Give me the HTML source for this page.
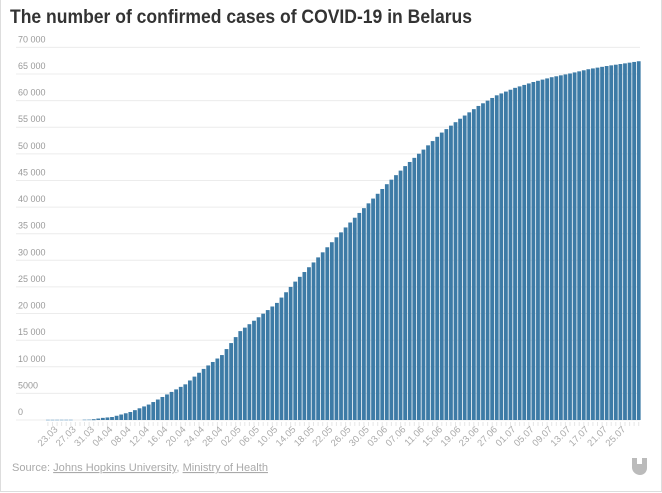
<!DOCTYPE html>
<html><head><meta charset="utf-8"><style>
html,body{margin:0;padding:0;background:#fff;}
body{width:662px;height:493px;overflow:hidden;position:relative;font-family:"Liberation Sans",sans-serif;}
.frame{position:absolute;left:0;top:0;width:660px;height:491px;border:1px solid #ddd;border-top:none;}
</style></head><body>
<div class="frame"></div>
<svg id="c" width="662" height="493" style="position:absolute;left:0;top:0"></svg>
<script>
var s='';
s+='<text x="10" y="23" font-size="19.5" font-weight="bold" fill="#333" textLength="462" lengthAdjust="spacingAndGlyphs">The number of confirmed cases of COVID-19 in Belarus</text>';
var y0=420,k=372.6/70000;
for(var v=0;v<=70000;v+=5000){var y=y0-v*k;
 s+='<line x1="16" x2="640" y1="'+y.toFixed(1)+'" y2="'+y.toFixed(1)+'" stroke="#ececec" stroke-width="1"/>';
 var t=v==0?'0':(v==5000?'5000':(v/1000)+' 000');
 s+='<text x="18" y="'+(y-5).toFixed(1)+'" font-size="9" fill="#999">'+t+'</text>';}
var kp=[[0,80],[2,86],[6,94],[10,152],[12,400],[14,560],[18,1500],[22,2900],[26,4800],[30,6700],[34,9600],[38,12200],[42,16700],[46,19300],[50,22000],[54,26000],[58,29600],[62,33400],[66,37100],[70,40700],[74,44300],[78,47700],[82,50800],[86,54000],[90,56600],[94,59000],[98,61000],[102,62400],[106,63500],[110,64400],[114,65100],[118,65900],[122,66500],[126,67000],[129,67400]];
function val(i){for(var j=0;j<kp.length-1;j++){if(i>=kp[j][0]&&i<=kp[j+1][0]){var a=kp[j],b=kp[j+1];return a[1]+(b[1]-a[1])*(i-a[0])/(b[0]-a[0]);}}return 67400;}
var days=[31,30,31,30,31,30,31];
function lab(i){var d=21+i,m=3;while(d>days[m-3]){d-=days[m-3];m++;}return (d<10?'0':'')+d+'.'+(m<10?'0':'')+m;}
for(var i=0;i<130;i++){var x=46+i*4.58,v=val(i),h=v*k;
 var col=(i<10)?'#9fc0d8':'#3d7ba6';
 if(!(i>=6&&i<=7)){
 s+='<rect x="'+x.toFixed(2)+'" y="'+(y0-h).toFixed(2)+'" width="3.8" height="'+Math.max(h,1).toFixed(2)+'" fill="'+col+'"/>';}
 s+='<line x1="'+(x+1.9).toFixed(1)+'" x2="'+(x+1.9).toFixed(1)+'" y1="422" y2="426" stroke="#e6e6e6"/>';
 if((i-2)%4==0){var cx=x+3;s+='<text transform="translate('+cx.toFixed(1)+',430) rotate(-45)" text-anchor="end" font-size="9.5" fill="#aaa">'+lab(i)+'</text>';}
}
s+='<text x="12" y="471" font-size="11" fill="#aaa" textLength="256" lengthAdjust="spacingAndGlyphs">Source: <tspan text-decoration="underline">Johns Hopkins University</tspan>, <tspan text-decoration="underline">Ministry of Health</tspan></text>';
s+='<path d="M632 458 h5 v6 h5 v-6 h5 v10 a7 7 0 0 1 -7 7 a8 8 0 0 1 -8 -7 z" fill="#bbb"/>';
document.getElementById('c').innerHTML=s;
</script>
</body></html>
